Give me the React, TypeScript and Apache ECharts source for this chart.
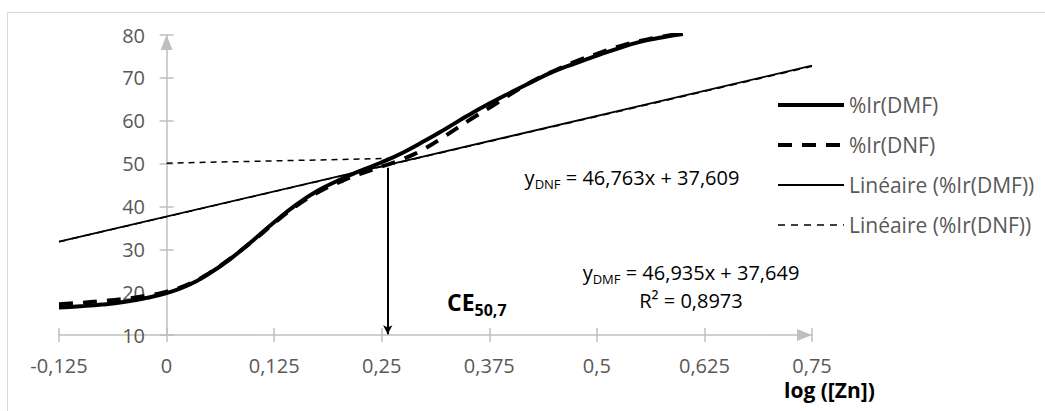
import React, { useEffect, useRef } from "react";
import * as echarts from "echarts";

const X_VALUES = [-0.125, -0.1, -0.075, -0.05, -0.025, 0, 0.025, 0.05, 0.075, 0.1, 0.125, 0.15, 0.175, 0.2, 0.225, 0.25, 0.275, 0.3, 0.325, 0.35, 0.375, 0.4, 0.425, 0.45, 0.475, 0.5, 0.525, 0.55, 0.575, 0.6];
const IR_DMF = [16.4, 16.7, 17.1, 17.7, 18.6, 19.8, 21.6, 24.4, 27.9, 32.0, 36.3, 40.3, 43.6, 46.1, 48.3, 50.3, 52.6, 55.3, 58.2, 61.2, 64.0, 66.6, 69.1, 71.5, 73.4, 75.2, 76.9, 78.4, 79.4, 80.2];
const IR_DNF = [17.2, 17.5, 17.9, 18.4, 19.1, 20.1, 21.8, 24.5, 28.0, 31.9, 36.1, 40.0, 43.2, 45.6, 47.6, 49.3, 51.1, 53.5, 56.6, 59.9, 63.0, 66.2, 69.2, 71.6, 73.8, 75.6, 77.3, 78.6, 79.6, 80.4];
const TREND_X = [-0.125, 0.75];
const TREND_DMF = [31.78, 72.85];
const TREND_DNF = [31.76, 72.68];
const CE_LEVEL = [[0, 50.1], [0.26, 51.2]];
const CE_ARROW = [[0.257, 49], [0.257, 10.2]];
const X_MIN = -0.125, X_MAX = 0.75, X_STEP = 0.125;
const Y_MIN = 10, Y_MAX = 80, Y_STEP = 10;
const NAMES = ["%Ir(DMF)", "%Ir(DNF)", "Linéaire (%Ir(DMF))", "Linéaire (%Ir(DNF))"];
const EQ_DNF = "46,763x + 37,609";
const EQ_DMF = "46,935x + 37,649";
const R2_DMF = "0,8973";

const FONT = "'Open Sans', 'Noto Sans', sans-serif";
const AXIS_COLOR = "#bfbfbf";
const LABEL_COLOR = "#595959";

export default function App() {
  const ref = useRef<HTMLDivElement>(null);
  useEffect(() => {
    if (!ref.current) return;
    const chart = echarts.init(ref.current, undefined, { renderer: "svg" });
    const fmt = (v: number) => String(v).replace(".", ",");
    const xBase = { type: "value", min: X_MIN, max: X_MAX, interval: X_STEP, splitLine: { show: false } };
    const yBase = { type: "value", min: Y_MIN, max: Y_MAX, interval: Y_STEP, splitLine: { show: false } };
    chart.setOption({
      animation: false,
      textStyle: { fontFamily: FONT },
      grid: { left: 59, right: 233, top: 35, bottom: 76, containLabel: false, outerBoundsMode: "none" },
      xAxis: [
        {
          ...xBase,
          position: "bottom",
          axisLine: { show: true, onZero: false, lineStyle: { color: AXIS_COLOR, width: 1.5 }, symbol: ["none", "triangle"], symbolSize: [12, 15], symbolOffset: [0, -7.5] },
          axisTick: { show: true, inside: false, length: 7, lineStyle: { color: AXIS_COLOR, width: 1.5 } },
          axisLabel: { color: LABEL_COLOR, fontSize: 20, fontFamily: FONT, margin: 20, formatter: fmt, showMinLabel: true, showMaxLabel: true },
        },
        {
          ...xBase,
          position: "bottom",
          axisLine: { show: false, onZero: false },
          axisTick: { show: true, inside: true, length: 7, lineStyle: { color: AXIS_COLOR, width: 1.5 } },
          axisLabel: { show: false },
        },
      ],
      yAxis: [
        {
          ...yBase,
          position: "left",
          axisLine: { show: true, onZero: true, onZeroAxisIndex: 0, lineStyle: { color: AXIS_COLOR, width: 1.5 }, symbol: ["none", "triangle"], symbolSize: [12, 15], symbolOffset: [0, -7.5] },
          axisTick: { show: true, inside: false, length: 7, lineStyle: { color: AXIS_COLOR, width: 1.5 } },
          axisLabel: { color: LABEL_COLOR, fontSize: 20, fontFamily: FONT, margin: -86 },
        },
        {
          ...yBase,
          position: "left",
          axisLine: { show: false, onZero: true, onZeroAxisIndex: 0 },
          axisTick: { show: true, inside: true, length: 7, lineStyle: { color: AXIS_COLOR, width: 1.5 } },
          axisLabel: { show: false },
        },
      ],
      legend: {
        orient: "vertical",
        left: 771,
        top: 88,
        itemWidth: 66,
        itemHeight: 14,
        itemGap: 16,
        data: NAMES,
        textStyle: { color: LABEL_COLOR, fontSize: 21, fontFamily: FONT, lineHeight: 24 },
        lineStyle: { width: "inherit" },
        itemStyle: { opacity: 0 },
      },
      series: [
        {
          name: NAMES[2],
          type: "line",
          symbol: "none",
          z: 2,
          data: TREND_X.map((x, i) => [x, TREND_DMF[i]]),
          lineStyle: { color: "#000", width: 1.8 },
        },
        {
          name: NAMES[3],
          type: "line",
          symbol: "none",
          z: 1,
          data: TREND_X.map((x, i) => [x, TREND_DNF[i]]),
          lineStyle: { color: "#000", width: 1.5, type: [7, 6] },
        },
        {
          name: "CE",
          type: "line",
          symbol: "none",
          z: 3,
          data: CE_LEVEL,
          lineStyle: { color: "#000", width: 1.5, type: [6, 5] },
          markLine: {
            silent: true,
            symbol: ["none", "arrow"],
            symbolSize: [7, 9],
            label: { show: false },
            lineStyle: { color: "#000", width: 2, type: "solid" },
            data: [[{ coord: CE_ARROW[0] }, { coord: CE_ARROW[1] }]],
          },
        },
        {
          name: NAMES[0],
          type: "line",
          symbol: "none",
          smooth: true,
          z: 4,
          data: X_VALUES.map((x, i) => [x, IR_DMF[i]]),
          lineStyle: { color: "#000", width: 4 },
        },
        {
          name: NAMES[1],
          type: "line",
          symbol: "none",
          smooth: true,
          z: 5,
          data: X_VALUES.map((x, i) => [x, IR_DNF[i]]),
          lineStyle: { color: "#000", width: 4, type: [14, 10] },
        },
      ],
      graphic: [
        { type: "rect", silent: true, z: -10, shape: { x: 7.5, y: 12.5, width: 1100, height: 500 }, style: { fill: "none", stroke: "#d9d9d9", lineWidth: 1 } },
        {
          type: "text", x: 632, y: 177, silent: true,
          style: {
            text: "{a|y}{s|DNF}{a| = " + EQ_DNF + "}", align: "center", verticalAlign: "middle",
            rich: {
              a: { fontSize: 20, fontFamily: FONT, fill: "#000", lineHeight: 26, verticalAlign: "middle" },
              s: { fontSize: 13, fontFamily: FONT, fill: "#000", lineHeight: 26, verticalAlign: "bottom" },
            },
          },
        },
        {
          type: "text", x: 691, y: 272, silent: true,
          style: {
            text: "{a|y}{s|DMF}{a| = " + EQ_DMF + "}", align: "center", verticalAlign: "middle",
            rich: {
              a: { fontSize: 20, fontFamily: FONT, fill: "#000", lineHeight: 26, verticalAlign: "middle" },
              s: { fontSize: 13, fontFamily: FONT, fill: "#000", lineHeight: 26, verticalAlign: "bottom" },
            },
          },
        },
        {
          type: "text", x: 691, y: 300, silent: true,
          style: { text: "R² = " + R2_DMF, align: "center", verticalAlign: "middle", fontSize: 20, fontFamily: FONT, fill: "#000" },
        },
        {
          type: "text", x: 447, y: 302, silent: true,
          style: {
            text: "{a|CE}{s|50,7}", align: "left", verticalAlign: "middle",
            rich: {
              a: { fontSize: 23, fontWeight: "bold", fontFamily: FONT, fill: "#000", lineHeight: 32, verticalAlign: "middle" },
              s: { fontSize: 16, fontWeight: "bold", fontFamily: FONT, fill: "#000", lineHeight: 32, verticalAlign: "bottom" },
            },
          },
        },
        {
          type: "text", x: 784, y: 390, silent: true,
          style: { text: "log ([Zn])", align: "left", verticalAlign: "middle", fontSize: 21, fontWeight: "bold", fontFamily: FONT, fill: "#000" },
        },
      ],
    });
    return () => chart.dispose();
  }, []);
  return <div ref={ref} style={{ position: "fixed", left: 0, top: 0, width: 1045, height: 411, background: "#fff" }} />;
}
